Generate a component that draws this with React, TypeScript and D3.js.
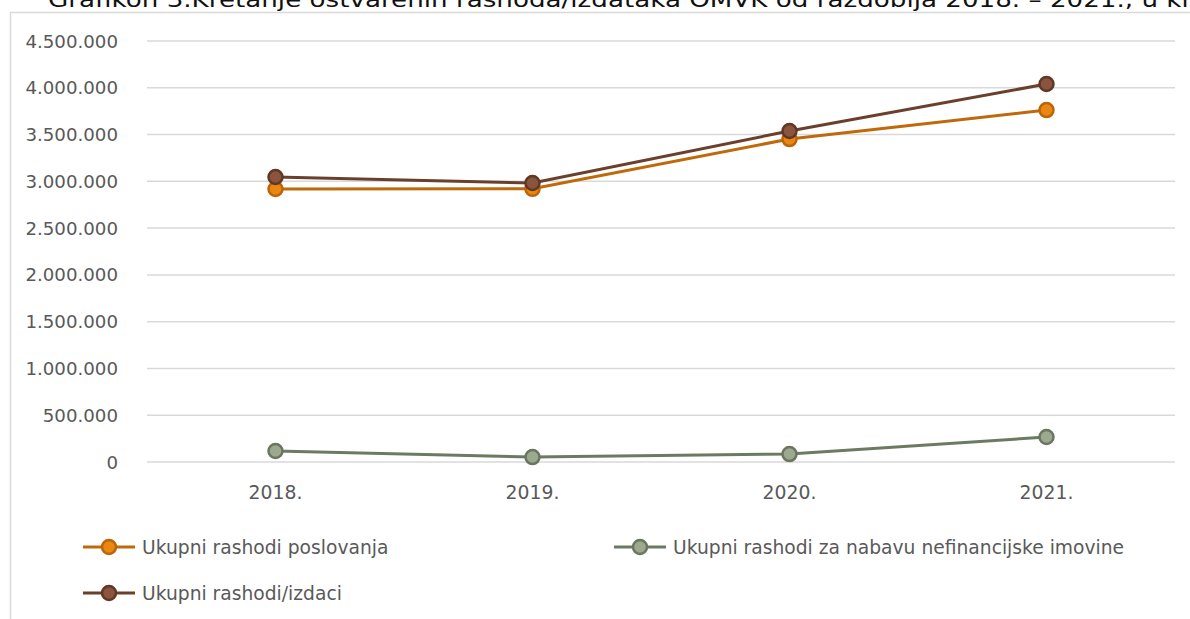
import React from "react";
import * as d3 from "d3";

// Grafikon 3 - rashodi/izdaci OMVK 2018.-2021.

const years = ["2018.", "2019.", "2020.", "2021."];
const poslovanja = [2918000, 2920000, 3452000, 3762000];
const nefinancijska = [118000, 53000, 85000, 267000];
const ukupno = [3046000, 2982000, 3538000, 4040000];
const yTicks = [0, 500000, 1000000, 1500000, 2000000, 2500000, 3000000, 3500000, 4000000, 4500000];

const title = "Grafikon 3.Kretanje ostvarenih rashoda/izdataka OMVK od razdoblja 2018. – 2021., u kn";

const series = [
  { name: "Ukupni rashodi poslovanja", values: poslovanja, line: "#C0690A", fill: "#EA8612", stroke: "#BB6508" },
  { name: "Ukupni rashodi za nabavu nefinancijske imovine", values: nefinancijska, line: "#6C7A62", fill: "#9CA98F", stroke: "#6A765F" },
  { name: "Ukupni rashodi/izdaci", values: ukupno, line: "#6A3F2B", fill: "#8A543F", stroke: "#5F3826" },
];

const W = 1190, H = 619;
const font = "'DejaVu Sans', sans-serif";

const hr = d3.formatLocale({ decimal: ",", thousands: ".", grouping: [3], currency: ["", " kn"] });
const fmt = hr.format(",.0f");

export default function App() {
  const x = d3.scaleBand().domain(years).range([147, 1175]);
  const y = d3.scaleLinear().domain([0, 4500000]).range([462, 41]);
  const cx = (d: string) => (x(d) ?? 0) + x.bandwidth() / 2;

  const line = d3.line<number>()
    .x((_, i) => cx(years[i]))
    .y((v) => y(v));

  // legend positions
  const legend = [
    { s: series[0], lx: 83, ly: 547 },
    { s: series[1], lx: 614, ly: 547 },
    { s: series[2], lx: 83, ly: 593 },
  ];

  return (
    <svg width={W} height={H} style={{ position: "absolute", left: 0, top: 0, background: "#fff" }}>
      <text x={48} y={7} fontFamily={font} fontSize={22} fill="#111" textLength={1150} lengthAdjust="spacingAndGlyphs">
        {title}
      </text>
      <line x1={10} x2={W} y1={12.5} y2={12.5} stroke="#d9d9d9" strokeWidth={1.5} />
      <line x1={10.5} x2={10.5} y1={12} y2={H} stroke="#d9d9d9" strokeWidth={1.5} />

      {yTicks.map((t) => (
        <g key={t}>
          <line x1={147} x2={1175} y1={y(t)} y2={y(t)} stroke="#d9d9d9" strokeWidth={1.5} />
          <text x={118} y={y(t)} dy="0.36em" textAnchor="end" fontFamily={font} fontSize={18.2} fill="#595959">
            {fmt(t)}
          </text>
        </g>
      ))}

      {years.map((yr) => (
        <text key={yr} x={cx(yr)} y={499} textAnchor="middle" fontFamily={font} fontSize={18.8} fill="#595959">
          {yr}
        </text>
      ))}

      {[series[1], series[0], series[2]].map((s) => (
        <g key={s.name}>
          <path d={line(s.values) ?? ""} fill="none" stroke={s.line} strokeWidth={3} />
          {s.values.map((v, i) => (
            <circle key={i} cx={cx(years[i])} cy={y(v)} r={7} fill={s.fill} stroke={s.stroke} strokeWidth={2.5} />
          ))}
        </g>
      ))}

      {legend.map(({ s, lx, ly }) => (
        <g key={s.name}>
          <line x1={lx} x2={lx + 52} y1={ly} y2={ly} stroke={s.line} strokeWidth={3} />
          <circle cx={lx + 26} cy={ly} r={7} fill={s.fill} stroke={s.stroke} strokeWidth={2.5} />
          <text x={lx + 59} y={ly} dy="0.36em" fontFamily={font} fontSize={18.7} fill="#595959">
            {s.name}
          </text>
        </g>
      ))}
    </svg>
  );
}
